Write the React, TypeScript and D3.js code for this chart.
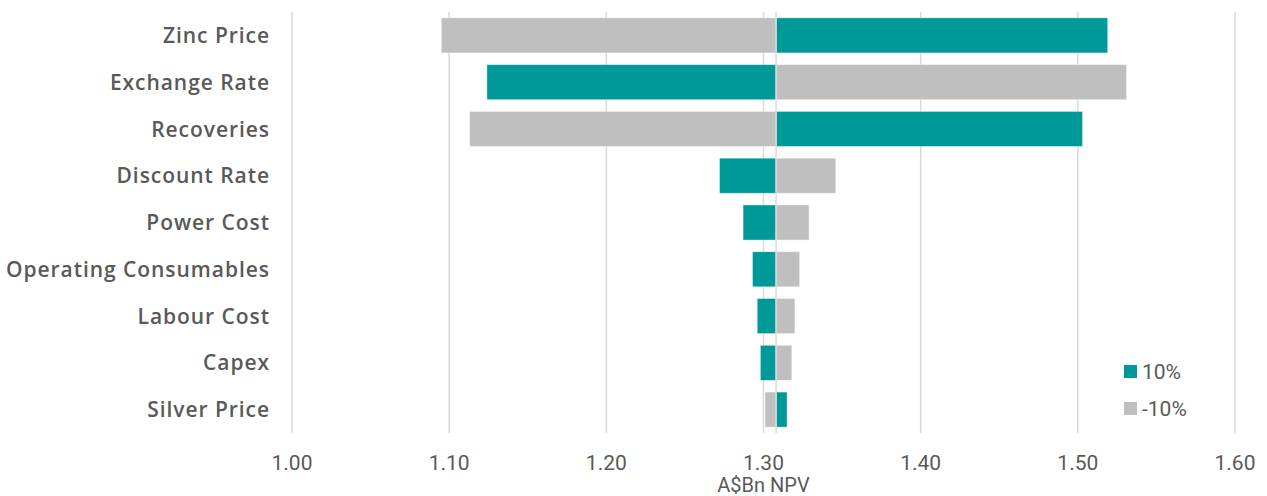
import React from "react";
import * as d3 from "d3";

const categories = [
  "Zinc Price",
  "Exchange Rate",
  "Recoveries",
  "Discount Rate",
  "Power Cost",
  "Operating Consumables",
  "Labour Cost",
  "Capex",
  "Silver Price",
];
const baseValue = 1.308;
const plus10 = [1.519, 1.124, 1.503, 1.272, 1.287, 1.293, 1.296, 1.298, 1.315];
const minus10 = [1.095, 1.531, 1.113, 1.346, 1.329, 1.323, 1.32, 1.318, 1.301];
const ticks = [1.0, 1.1, 1.2, 1.3, 1.4, 1.5, 1.6];
const seriesNames = ["10%", "-10%"];
const colors = ["#009999", "#BFBFBF"];

export default function App() {
  const W = 1267, H = 496;
  const x = d3.scaleLinear().domain([1.0, 1.6]).range([292, 1235]);
  const y = d3.scaleBand<string>().domain(categories).range([12, 433]).paddingInner(0.25).paddingOuter(0.125);
  const textColor = "#595959";
  const bars: JSX.Element[] = [];
  const series = [plus10, minus10];
  categories.forEach((c, i) => {
    series.forEach((s, k) => {
      const v = s[i];
      const x0 = x(Math.min(v, baseValue));
      const x1 = x(Math.max(v, baseValue));
      bars.push(
        <rect key={c + k} x={x0} y={y(c)} width={x1 - x0} height={y.bandwidth()} fill={colors[k]} stroke="#ffffff" strokeOpacity={0.5} strokeWidth={0.8} />
      );
    });
  });
  return (
    <svg width={W} height={H} style={{ position: "absolute", left: 0, top: 0 }}>
      <rect width={W} height={H} fill="#fff" />
      {ticks.map((t) => (
        <line key={t} x1={x(t)} x2={x(t)} y1={12} y2={433} stroke="#D9D9D9" strokeWidth={1.5} />
      ))}
      {bars}
      <line x1={x(baseValue)} x2={x(baseValue)} y1={12} y2={433} stroke="#D9D9D9" strokeWidth={1.5} />
      {categories.map((c) => (
        <text key={c} x={270} y={y(c)! + y.bandwidth() / 2} dy="0.36em" textAnchor="end" fontFamily="'Open Sans', sans-serif" fontWeight={600} fontSize={21} letterSpacing={0.95} fill={textColor}>
          {c}
        </text>
      ))}
      {ticks.map((t) => (
        <text key={"t" + t} x={x(t)} y={470} textAnchor="middle" fontFamily="Roboto, sans-serif" fontSize={21} fill={textColor}>
          {d3.format(".2f")(t)}
        </text>
      ))}
      <text x={(292 + 1235) / 2} y={492} textAnchor="middle" fontFamily="Roboto, sans-serif" fontSize={20} fill={textColor}>
        A$Bn NPV
      </text>
      {seriesNames.map((n, k) => (
        <g key={n} transform={`translate(1124, ${365 + k * 37})`}>
          <rect x={0} y={0} width={13} height={13} fill={colors[k]} />
          <text x={18} y={6.5} dy="0.36em" fontFamily="Roboto, sans-serif" fontSize={21} fill={textColor}>
            {n}
          </text>
        </g>
      ))}
    </svg>
  );
}
